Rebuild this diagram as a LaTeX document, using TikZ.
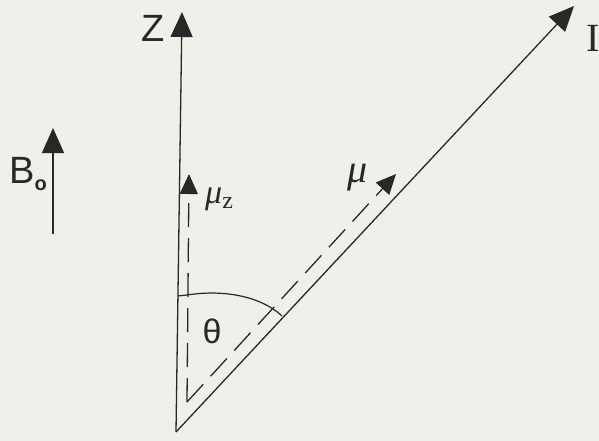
\documentclass[tikz,border=0pt]{standalone}
\usepackage{fontspec}
\setmainfont{Liberation Sans}
\newfontfamily\serifI{Liberation Serif}
\usetikzlibrary{arrows.meta}
\definecolor{paper}{RGB}{240,239,233}
\definecolor{ink}{RGB}{40,40,40}
\begin{document}
\begin{tikzpicture}[x=1pt,y=-1pt,
  axis/.style={draw=ink,line width=1.3pt},
  bigtip/.style={-{Triangle[length=25pt,width=22pt]}},
  smalltip/.style={-{Triangle[length=20pt,width=18pt]}},
  vecline/.style={draw=ink,line width=1.3pt,dash pattern=on 24pt off 11pt},
  lab/.style={text=ink,inner sep=0pt,font=\fontsize{38}{42}\selectfont}]
\fill[paper] (0,0) rectangle (599,441);
\useasboundingbox (0,0) rectangle (599,441);
% coordinates
\coordinate (O) at (176,432);
\coordinate (Ztip) at (182,12);
\coordinate (Itip) at (574,6);
\coordinate (Bbot) at (53,234);
\coordinate (Btip) at (53,128);
\coordinate (M0) at (187,402);
\coordinate (MZtip) at (189,174);
\coordinate (Mtip) at (396,174);
\coordinate (A0) at (178,296);
\coordinate (A1) at (187,295);
\coordinate (A2) at (282,316);
% axes
\draw[axis,bigtip] (O) -- (Ztip);
\draw[axis,bigtip] (O) -- (Itip);
\draw[axis,bigtip] (Bbot) -- (Btip);
% dashed components
\draw[vecline,smalltip] (M0) -- (MZtip);
\draw[vecline,smalltip] (M0) -- (Mtip);
% angle arc
\draw[draw=ink,line width=1.2pt] (A0) -- (A1) .. controls (225,289) and (262,297) .. (A2);
% labels
\node[lab] (zlab) at (153,28) {Z};
\node[lab,anchor=west,font=\serifI\fontsize{40}{44}\selectfont] (ilab) at (586,38) {I};
\node[lab,anchor=base west] (blab) at (9,183) {B\raisebox{-7pt}{\fontsize{20}{20}\selectfont\bfseries o}};
\node[lab,font=\serifI\itshape\fontsize{40}{44}\selectfont] (mulab) at (358,178) {μ};
\node[lab,anchor=base west,font=\serifI\itshape\fontsize{34}{38}\selectfont] (muzlab) at (205,203) {μ\raisebox{-5pt}{\fontsize{24}{24}\selectfont\upshape z}};
\node[lab,font=\fontsize{34}{38}\selectfont] (thlab) at (212,331) {θ};
\end{tikzpicture}
\end{document}
